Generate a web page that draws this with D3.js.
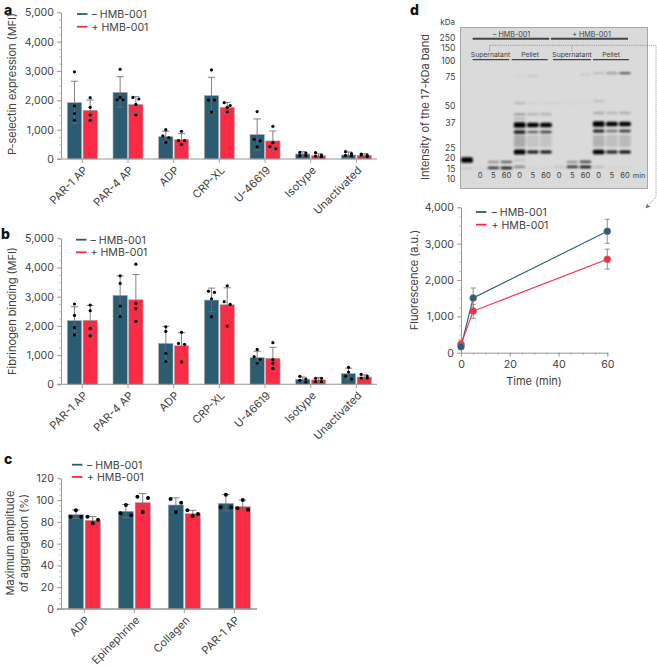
<!DOCTYPE html>
<html><head><meta charset="utf-8">
<script src="https://cdnjs.cloudflare.com/ajax/libs/d3/7.8.5/d3.min.js"></script>
<style>
html,body{margin:0;padding:0;background:#fff}
svg{display:block}
text{font-family:Inter,"Noto Sans",sans-serif;fill:#3f3f3f}
</style></head><body><div id="chart"></div>
<script>
// ---------- data ----------
const agonists = ["PAR-1 AP","PAR-4 AP","ADP","CRP-XL","U-46619","Isotype","Unactivated"];
const aggAgonists = ["ADP","Epinephrine","Collagen","PAR-1 AP"];
const seriesNames = ["– HMB-001","+ HMB-001"];

const pselMinusMean = [1920,2270,760,2160,830,170,135];
const pselMinusLow  = [1215,1760,570,1590,295,90,45];
const pselMinusHigh = [2650,2805,945,2785,1365,250,240];
const pselMinusDots = [[2970,1810,1550,1320],[3055,2100,2020,2020],[1000,785,727,570],[3035,2010,2010,1600],[1615,670,615,410],[225,205,115,115],[250,180,125,115]];
const pselPlusMean = [1660,1860,660,1760,615,115,125];
const pselPlusLow  = [1305,1590,455,1590,295,35,70];
const pselPlusHigh = [2010,2125,865,1930,955,180,180];
const pselPlusDots = [[2090,1760,1500,1320],[2100,2045,1860,1500],[945,625,625,500],[1920,1820,1760,1610],[1115,555,420,350],[215,135,100,80],[170,135,135,80]];

const fibMinusMean = [2180,3045,1400,2885,910,170,365];
const fibMinusLow  = [1690,2350,800,2485,695,90,180];
const fibMinusHigh = [2655,3715,1985,3295,1130,250,550];
const fibMinusDots = [[2750,2360,1940,1690],[3715,3455,2680,2325],[1970,1810,1060,785],[3190,3145,2930,2315],[1195,945,855,720],[275,180,135,70],[580,420,275,180]];
const fibPlusMean = [2190,2895,1320,2725,890,150,250];
const fibPlusLow  = [1690,2065,925,2155,500,60,180];
const fibPlusHigh = [2700,3760,1765,3305,1265,230,320];
const fibPlusDots = [[2715,2520,1915,1655],[4115,2770,2590,2155],[1780,1400,1370,765],[3375,2830,2735,1995],[1425,845,720,545],[205,205,90,90],[340,285,215,215]];

const aggMinusMean = [86.6,89.7,95.5,97];
const aggMinusLow  = [83,84,89,90];
const aggMinusHigh = [91,96,102,105];
const aggMinusDots = [[90.6,84.8,84.8],[95.5,87.9,86],[101,97.6,89],[105,93.4,93.4]];
const aggPlusMean = [81.4,97.6,87.5,94];
const aggPlusLow  = [78,89,84.8,89.7];
const aggPlusHigh = [85,106,90.6,100];
const aggPlusDots = [[84.8,82,78.7],[103,102,89],[90.6,87.2,85.4],[100,92.4,91.2]];

const timeMin = [0,5,60];
const fluoMinus = [165,1505,3340];
const fluoMinusLow = [100,1220,3010];
const fluoMinusHigh = [250,1780,3670];
const fluoPlus = [230,1145,2570];
const fluoPlusLow = [130,945,2300];
const fluoPlusHigh = [350,1330,2850];

// gel: marker sizes and bands as [kDa, intensity, thickness]
const kdaLadder = [250,150,100,75,50,37,25,20,15,10];
const gelLanes = ["M","s0","s5","s60","p0","p5","p60","S0","S5","S60","P0","P5","P60"];
const gelTimes = ["0","5","60","0","5","60","0","5","60","0","5","60"];
const gelBands = {
  M:  [[18.9,1,5.5],[15.2,.14,1.6]],
  s0: [[15,.06,1.6]],
  s5: [[17.9,.5,1.6],[15.4,.85,2.2]],
  s60:[[18,.72,1.8],[15.4,.95,2.4]],
  p0: [[76,.08,1],[52,.2,1.6],[43,.26,2.5],[40,.16,2.5],[35.7,1,5.5],[32.1,.9,3.6],[28,.22,12],[22.9,1,5],[18.9,.14,1.8],[15.8,.42,2.2]],
  p5: [[76,.18,.8],[52,.05,1.6],[43,.16,2.5],[35.7,1,4.4],[32.1,.65,2.2],[28,.1,12],[22.9,.95,2.8],[15.2,.07,1.6]],
  p60:[[52,.05,1.6],[43,.18,2.5],[35.7,1,4.6],[32.1,.75,2.4],[28,.1,12],[22.9,.95,2.8],[15.2,.06,1.6]],
  S0: [[52,.07,1.2],[15.8,.14,1.6]],
  S5: [[52,.05,1.2],[17.9,.5,1.6],[15.8,.88,2.2]],
  S60:[[78,.2,.8],[52,.05,1.2],[18,.82,2],[15.8,1,2.4]],
  P0: [[80,.24,1.2],[53.5,.16,1.6],[44,.22,2.5],[36.3,1,5.5],[32.6,.9,3],[28,.18,12],[22.9,1,4.4],[15.8,.2,1.6]],
  P5: [[80,.5,1.2],[44,.16,2.5],[36.3,1,4.4],[32.6,.5,2.4],[28,.12,12],[22.9,.9,2.8],[15.4,.06,1.6]],
  P60:[[80,.85,1.5],[44,.2,2.5],[36.3,1,4.6],[32.6,.82,2.6],[28,.15,12],[22.9,1,3.2],[15.4,.06,1.6]]
};

// ---------- styles ----------
const DARK="#2b5c72", RED="#fb2a45", AXIS="#969696", FS=10.6;
const svg=d3.select("#chart").append("svg").attr("width",657).attr("height",667);
const defs=svg.append("defs");
defs.append("filter").attr("id","blur").attr("x","-10%").attr("y","-10%").attr("width","120%").attr("height","120%")
  .append("feGaussianBlur").attr("stdDeviation","0.95");
defs.append("marker").attr("id","arrow").attr("viewBox","0 0 8 8").attr("refX",7).attr("refY",4)
  .attr("markerWidth",7).attr("markerHeight",7).attr("orient","auto")
  .append("path").attr("d","M0,0L8,4L0,8L1.5,4Z").attr("fill","#777");

function styleAxis(g,strong){
  g.selectAll(".domain").attr("stroke",AXIS).attr("stroke-width",strong||1);
  g.selectAll(".tick line").attr("stroke",AXIS).attr("stroke-width",.9);
  g.selectAll(".tick text").attr("font-size",FS).attr("fill","#4a4a4a");
}
function yAxes(x,y,majors,minorStep,fmt,xFrom){
  const dom=y.domain();
  const minors=d3.range(dom[0],dom[1]+1e-6,minorStep);
  const gm=svg.append("g").attr("transform",`translate(${x},0)`)
    .call(d3.axisLeft(y).tickValues(minors).tickSize(2).tickFormat(""));
  gm.selectAll(".tick line").attr("stroke","#b0b0b0").attr("stroke-width",.7);
  gm.select(".domain").remove();
  const g=svg.append("g").attr("transform",`translate(${x},0)`)
    .call(d3.axisLeft(y).tickValues(majors).tickSize(xFrom).tickPadding(3).tickSizeOuter(0).tickFormat(fmt));
  styleAxis(g);
}
function legend(x,y0,y1,textX){
  [[y0,DARK,0],[y1,RED,1]].forEach(([y,c,i])=>{
    svg.append("line").attr("x1",x).attr("x2",x+10.5).attr("y1",y).attr("y2",y).attr("stroke",c).attr("stroke-width",1.8);
    svg.append("text").attr("x",textX).attr("y",y+3.8).attr("font-size",FS).text(seriesNames[i]);
  });
}
function panelLetter(l,x,y){
  svg.append("text").attr("x",x).attr("y",y).attr("font-size",14).attr("font-weight",800).style("fill","#111").text(l);
}
function yTitle(lines,x,cy,lh){
  lines.forEach((t,i)=>svg.append("text")
    .attr("transform",`translate(${x+i*lh},${cy}) rotate(-90)`)
    .attr("text-anchor","middle").attr("font-size",11).text(t));
}
// values close together on the y scale are spread sideways so the dots stay readable
function swarm(vals,y,step,thr){
  const out=[]; const s=[...vals].sort((a,b)=>b-a); let i=0;
  while(i<s.length){
    let j=i+1; while(j<s.length && y(s[j])-y(s[i])<thr) j++;
    const n=j-i, pat=n===1?[0]:n===2?[-1,1]:n===3?[0,-1,1]:[-1,1,-1,1];
    for(let k=0;k<n;k++) out.push({v:s[i+k],dx:pat[k]*step});
    i=j;
  }
  return out;
}
function barPanel(o){
  const y=d3.scaleLinear().domain(o.dom).range(o.yRange);
  const x=d3.scaleBand().domain(o.cats).range(o.xRange);
  const inner=d3.scaleBand().domain([0,1]).range([-o.half,o.half]).paddingInner(o.pad);
  const series=[
    {c:DARK,m:o.m0,l:o.l0,h:o.h0,d:o.d0},
    {c:RED,m:o.m1,l:o.l1,h:o.h1,d:o.d1}];
  series.forEach((s,si)=>{
    const g=svg.append("g");
    const cx=i=>x(o.cats[i])+x.bandwidth()/2+inner(si);
    g.selectAll("rect").data(s.m).join("rect")
      .attr("x",(d,i)=>cx(i)).attr("width",inner.bandwidth())
      .attr("y",d=>y(d)).attr("height",d=>y(0)-y(d))
      .attr("fill",s.c).attr("stroke","#a9a9a9").attr("stroke-width",.6);
  });
  series.forEach((s,si)=>{
    const g=svg.append("g");
    const mid=i=>x(o.cats[i])+x.bandwidth()/2+inner(si)+inner.bandwidth()/2;
    s.m.forEach((d,i)=>{
      g.append("line").attr("x1",mid(i)).attr("x2",mid(i)).attr("y1",y(s.h[i])).attr("y2",y(s.l[i]));
      [s.h[i],s.l[i]].forEach(v=>g.append("line").attr("x1",mid(i)-o.cap).attr("x2",mid(i)+o.cap).attr("y1",y(v)).attr("y2",y(v)));
      swarm(s.d[i],y,o.step,o.thr).forEach(p=>g.append("circle").attr("class","dot")
        .attr("cx",mid(i)+p.dx).attr("cy",y(p.v)).attr("r",o.r).attr("fill","#050505"));
    });
    g.selectAll("line").attr("stroke","#6d6d6d").attr("stroke-width",.85);
  });
  const gx=svg.append("g").attr("transform",`translate(0,${y(0)})`)
    .call(d3.axisBottom(x).tickSize(4).tickSizeOuter(0));
  gx.select(".domain").attr("d",`M${o.xLine[0]},0H${o.xLine[1]}`);
  styleAxis(gx,o.xStrong||1.1);
  gx.selectAll(".tick text").attr("font-size",11).attr("text-anchor","end").attr("dy",0).attr("y",0)
    .attr("transform","translate(6,12) rotate(-45)");
  yAxes(61,y,o.majors,o.minor,o.fmt,4);
}
const comma=d3.format(",");

// ---------- panels a, b, c ----------
panelLetter("a",4,14.5);
barPanel({cats:agonists,dom:[0,5000],yRange:[159,12.3],xRange:[59.5,379.2],half:15,pad:.09,cap:3.6,step:3,thr:3.2,r:1.6,
  m0:pselMinusMean,l0:pselMinusLow,h0:pselMinusHigh,d0:pselMinusDots,m1:pselPlusMean,l1:pselPlusLow,h1:pselPlusHigh,d1:pselPlusDots,
  majors:d3.range(0,5001,1000),minor:250,fmt:comma,xLine:[57,377]});
legend(77,14,26.7,91.5);
yTitle(["P-selectin expression (MFI)"],16,84,0);

panelLetter("b",1,239);
barPanel({cats:agonists,dom:[0,5000],yRange:[384.3,238.3],xRange:[59.5,379.2],half:15,pad:.09,cap:3.6,step:3,thr:3.2,r:1.6,
  m0:fibMinusMean,l0:fibMinusLow,h0:fibMinusHigh,d0:fibMinusDots,m1:fibPlusMean,l1:fibPlusLow,h1:fibPlusHigh,d1:fibPlusDots,
  majors:d3.range(0,5001,1000),minor:250,fmt:comma,xLine:[57,377]});
legend(76,239.7,252.3,90.5);
yTitle(["Fibrinogen binding (MFI)"],16,311,0);

panelLetter("c",4,464);
barPanel({cats:aggAgonists,dom:[0,120],yRange:[609,478.3],xRange:[59.3,259.3],half:16,pad:.1,cap:3.8,step:5.3,thr:4,r:2,
  m0:aggMinusMean,l0:aggMinusLow,h0:aggMinusHigh,d0:aggMinusDots,m1:aggPlusMean,l1:aggPlusLow,h1:aggPlusHigh,d1:aggPlusDots,
  majors:d3.range(0,121,20),minor:5,fmt:d3.format("d"),xLine:[57,257],xStrong:1.6});
legend(72,464.7,477,87);
yTitle(["Maximum amplitude","of aggregation (%)"],14,543,14);

// ---------- panel d: gel ----------
panelLetter("d",410,14.5);
const gel=svg.append("g");
gel.append("rect").attr("x",460.5).attr("y",27.5).attr("width",187).attr("height",161)
  .attr("fill","#dadada").attr("stroke","#a6a6a6").attr("stroke-width",1);
const kdaY=d3.scaleLog().domain(kdaLadder).range([38.3,47.7,61,76.7,106,122.7,148.3,157.7,169,179]);
const laneX=d3.scalePoint().domain(gelLanes).range([467,625]);
const bandG=gel.append("g").attr("filter","url(#blur)");
gelLanes.forEach(l=>gelBands[l].forEach(([k,op,t])=>{
  bandG.append("rect").attr("x",laneX(l)-5.8).attr("width",11.6).attr("y",kdaY(k)-t/2).attr("height",t)
    .attr("rx",1.5).attr("fill","#000").attr("opacity",op);
}));
kdaLadder.forEach(k=>gel.append("text").attr("x",455.5).attr("y",kdaY(k)+3).attr("text-anchor","end").attr("font-size",8.6).text(k));
gel.append("text").attr("x",455).attr("y",25).attr("text-anchor","end").attr("font-size",8).text("kDa");
gelLanes.slice(1).forEach((l,i)=>gel.append("text").attr("x",laneX(l)).attr("y",178).attr("text-anchor","middle").attr("font-size",7.6).text(gelTimes[i]));
gel.append("text").attr("x",639).attr("y",178).attr("text-anchor","middle").attr("font-size",7.2).text("min");
const gelHeads=[["– HMB-001",511.5,472.7,549.3,36.6,38.7,2,7.2],["+ HMB-001",591.5,551,628,36.6,38.7,2,7.2],
  ["Supernatant",490.5,472.7,509.3,57.2,59.6,1.3,6.8],["Pellet",530,511.7,547.7,57.2,59.6,1.3,6.8],
  ["Supernatant",572,553,591,57.2,59.6,1.3,6.8],["Pellet",611,593,629,57.2,59.6,1.3,6.8]];
gelHeads.forEach(([t,tx,x1,x2,ty,ly,w,fs])=>{
  gel.append("text").attr("x",tx).attr("y",ty).attr("text-anchor","middle").attr("font-size",fs).text(t);
  gel.append("line").attr("x1",x1).attr("x2",x2).attr("y1",ly).attr("y2",ly).attr("stroke","#444").attr("stroke-width",w);
});
gel.append("text").attr("transform","translate(429,107) rotate(-90)").attr("text-anchor","middle").attr("font-size",11).text("Intensity of the 17-kDa band");
svg.append("path").attr("d","M489.5,51V45.3H656V197L646,208").attr("fill","none").attr("stroke","#777").attr("stroke-width",.7)
  .attr("stroke-dasharray","1.2 1").attr("marker-end","url(#arrow)");
svg.append("path").attr("d","M572,45.3V51").attr("stroke","#777").attr("stroke-width",.7).attr("stroke-dasharray","1.2 1");

// ---------- panel d: time course ----------
const tx=d3.scaleLinear().domain([0,60]).range([461,607.3]);
const ty=d3.scaleLinear().domain([0,4000]).range([352.7,207.3]);
const gxd=svg.append("g").attr("transform",`translate(0,${ty(0)})`);
gxd.call(d3.axisBottom(tx).tickValues(d3.range(0,61,5)).tickSize(2).tickFormat(""));
gxd.selectAll(".tick line").attr("stroke","#b0b0b0");gxd.select(".domain").remove();
const gxm=svg.append("g").attr("transform",`translate(0,${ty(0)})`)
  .call(d3.axisBottom(tx).tickValues([0,20,40,60]).tickSize(4).tickSizeOuter(0).tickPadding(4));
styleAxis(gxm);
yAxes(461,ty,d3.range(0,4001,1000),250,comma,4);
svg.append("text").attr("x",534).attr("y",385).attr("text-anchor","middle").attr("font-size",11).text("Time (min)");
yTitle(["Fluorescence (a.u.)"],418,280,0);
legend(476,212,224.7,491.5);
const lineGen=d3.line().x((d,i)=>tx(timeMin[i])).y(d=>ty(d));
[{c:DARK,v:fluoMinus,l:fluoMinusLow,h:fluoMinusHigh},{c:RED,v:fluoPlus,l:fluoPlusLow,h:fluoPlusHigh}].forEach(s=>{
  const g=svg.append("g");
  timeMin.forEach((t,i)=>{
    g.append("line").attr("x1",tx(t)).attr("x2",tx(t)).attr("y1",ty(s.h[i])).attr("y2",ty(s.l[i])).attr("stroke","#777").attr("stroke-width",.8);
    [s.h[i],s.l[i]].forEach(v=>g.append("line").attr("x1",tx(t)-2.6).attr("x2",tx(t)+2.6).attr("y1",ty(v)).attr("y2",ty(v)).attr("stroke","#777").attr("stroke-width",.8));
  });
  g.append("path").attr("d",lineGen(s.v)).attr("fill","none").attr("stroke",s.c).attr("stroke-width",1.1);
});
[{c:RED,v:fluoPlus},{c:DARK,v:fluoMinus}].forEach(s=>{
  svg.append("g").selectAll("circle").data(s.v).join("circle")
    .attr("cx",(d,i)=>tx(timeMin[i])).attr("cy",d=>ty(d)).attr("r",3.5)
    .attr("fill",s.c).attr("stroke","#8a8a8a").attr("stroke-width",.5);
});
</script></body></html>
